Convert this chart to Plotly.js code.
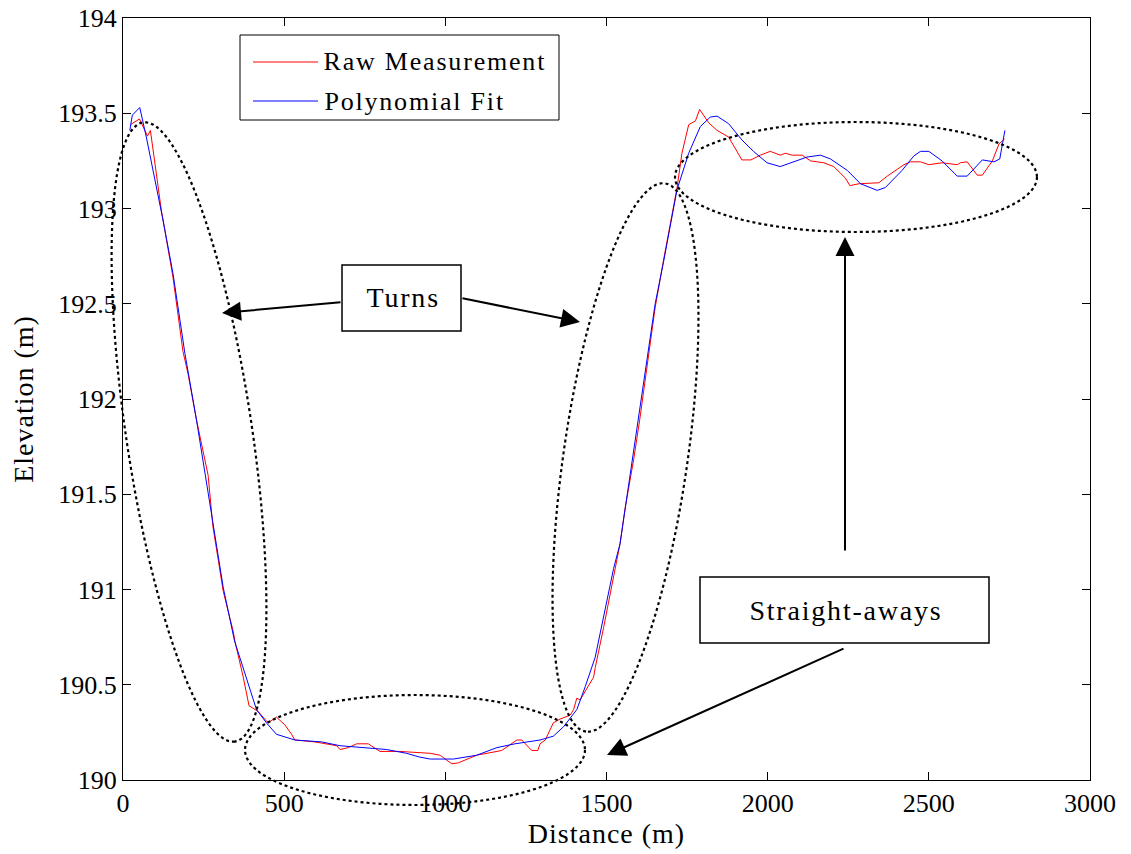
<!DOCTYPE html>
<html>
<head>
<meta charset="utf-8">
<script src="https://cdn.plot.ly/plotly-3.0.1.min.js"></script>
<style>
html,body{margin:0;padding:0;background:#fff;}
#chart{width:1131px;height:854px;}
#chart .xtitle, #chart .ytitle{letter-spacing:1px;}
#chart .annotation-text{letter-spacing:1.8px;}
</style>
</head>
<body>
<div id="chart"></div>
<script>
// ---- Data ----
const rawDistance = [23, 51, 76, 85, 119, 155, 186, 202, 228, 259, 264, 279, 311, 342, 347, 373, 391, 419, 450, 476, 502, 523, 533, 595, 663, 673, 699, 725, 761, 797, 859, 953, 984, 1020, 1040, 1097, 1160, 1175, 1222, 1237, 1268, 1287, 1294, 1310, 1335, 1356, 1387, 1398, 1408, 1418, 1460, 1465, 1491, 1522, 1542, 1558, 1584, 1603, 1651, 1677, 1719, 1734, 1755, 1776, 1789, 1817, 1843, 1879, 1920, 1948, 1977, 2008, 2039, 2055, 2076, 2107, 2133, 2174, 2205, 2241, 2255, 2283, 2345, 2371, 2397, 2423, 2443, 2474, 2500, 2541, 2588, 2598, 2619, 2650, 2666, 2697, 2718, 2735];
const rawElevation = [193.44, 193.47, 193.38, 193.41, 192.99, 192.64, 192.25, 192.13, 191.89, 191.64, 191.60, 191.33, 190.99, 190.78, 190.73, 190.54, 190.39, 190.36, 190.30, 190.33, 190.29, 190.24, 190.21, 190.20, 190.18, 190.16, 190.17, 190.19, 190.19, 190.15, 190.15, 190.14, 190.13, 190.085, 190.09, 190.13, 190.15, 190.155, 190.21, 190.21, 190.155, 190.155, 190.19, 190.21, 190.30, 190.32, 190.34, 190.37, 190.43, 190.42, 190.54, 190.59, 190.80, 191.06, 191.24, 191.43, 191.68, 191.89, 192.48, 192.73, 193.11, 193.29, 193.44, 193.46, 193.52, 193.45, 193.41, 193.375, 193.255, 193.255, 193.28, 193.30, 193.28, 193.29, 193.28, 193.28, 193.25, 193.24, 193.22, 193.16, 193.12, 193.13, 193.135, 193.17, 193.20, 193.23, 193.245, 193.245, 193.23, 193.24, 193.23, 193.24, 193.245, 193.175, 193.175, 193.25, 193.34, 193.365];

const fitDistance = [21, 29, 52, 73, 124, 155, 192, 228, 279, 311, 346, 414, 445, 476, 533, 616, 673, 818, 880, 921, 953, 1025, 1097, 1160, 1216, 1294, 1335, 1367, 1408, 1434, 1465, 1491, 1522, 1542, 1599, 1651, 1677, 1719, 1755, 1791, 1822, 1843, 1879, 1920, 1956, 1998, 2039, 2081, 2122, 2164, 2195, 2247, 2288, 2340, 2365, 2417, 2453, 2474, 2500, 2541, 2588, 2619, 2666, 2702, 2720, 2736];
const fitElevation = [193.41, 193.49, 193.53, 193.37, 192.94, 192.66, 192.24, 191.89, 191.35, 191.01, 190.73, 190.37, 190.30, 190.24, 190.21, 190.20, 190.18, 190.16, 190.14, 190.12, 190.11, 190.11, 190.13, 190.17, 190.19, 190.21, 190.23, 190.28, 190.37, 190.49, 190.645, 190.855, 191.11, 191.24, 191.89, 192.50, 192.72, 193.10, 193.29, 193.43, 193.48, 193.485, 193.445, 193.36, 193.30, 193.24, 193.22, 193.245, 193.27, 193.28, 193.26, 193.20, 193.13, 193.095, 193.11, 193.20, 193.275, 193.30, 193.30, 193.25, 193.17, 193.17, 193.255, 193.245, 193.26, 193.41];

const seriesNames = ["Raw Measurement", "Polynomial Fit"];
const xTicks = [0, 500, 1000, 1500, 2000, 2500, 3000];
const yTicks = [190, 190.5, 191, 191.5, 192, 192.5, 193, 193.5, 194];
const labelTurns = "Turns";
const labelStraight = "Straight-aways";

// ---- Layout geometry (pixels) ----
const FIG_W = 1131, FIG_H = 854;
const M = {l: 123, r: 41, t: 18, b: 74};
const PW = FIG_W - M.l - M.r, PH = FIG_H - M.t - M.b;
function px(X) { return (X - M.l) / PW; }
function py(Y) { return 1 - (Y - M.t) / PH; }

const FONT = "Liberation Serif, Times New Roman, serif";
const FS = 26;

function ellipsePath(cx, cy, a, b, thetaDeg) {
  const th = thetaDeg * Math.PI / 180, n = 120;
  let d = "";
  for (let i = 0; i <= n; i++) {
    const t = 2 * Math.PI * i / n;
    const X = cx + a * Math.cos(t) * Math.cos(th) - b * Math.sin(t) * Math.sin(th);
    const Y = cy + a * Math.cos(t) * Math.sin(th) + b * Math.sin(t) * Math.cos(th);
    d += (i === 0 ? "M" : "L") + px(X).toFixed(5) + "," + py(Y).toFixed(5);
  }
  return d + "Z";
}

const dotLine = {color: "black", width: 2.2, dash: "dot"};
const shapes = [
  {type: "path", xref: "paper", yref: "paper", path: ellipsePath(189, 432, 313, 63, 81.56), line: dotLine},
  {type: "path", xref: "paper", yref: "paper", path: ellipsePath(625.5, 457.5, 277, 62, 98.2), line: dotLine},
  {type: "path", xref: "paper", yref: "paper", path: ellipsePath(415, 750, 170, 55, 0), line: dotLine},
  {type: "path", xref: "paper", yref: "paper", path: ellipsePath(856, 177, 181, 55, 0), line: dotLine},
  // legend box
  {type: "rect", xref: "paper", yref: "paper", x0: px(240), x1: px(559), y0: py(35), y1: py(120), line: {color: "black", width: 1}, fillcolor: "white", layer: "above"},
  {type: "line", xref: "paper", yref: "paper", x0: px(253), x1: px(318), y0: py(62), y1: py(62), line: {color: "red", width: 1}, layer: "above"},
  {type: "line", xref: "paper", yref: "paper", x0: px(253), x1: px(318), y0: py(101), y1: py(101), line: {color: "blue", width: 1}, layer: "above"},
  // Turns box
  {type: "rect", xref: "paper", yref: "paper", x0: px(342), x1: px(461), y0: py(265), y1: py(331), line: {color: "black", width: 1.5}, fillcolor: "white", layer: "above"},
  // Straight-aways box
  {type: "rect", xref: "paper", yref: "paper", x0: px(700), x1: px(989), y0: py(577), y1: py(643), line: {color: "black", width: 1.5}, fillcolor: "white", layer: "above"}
];

function arrow(hx, hy, tx, ty) {
  return {xref: "paper", yref: "paper", x: px(hx), y: py(hy), ax: tx - hx, ay: ty - hy,
          axref: "pixel", ayref: "pixel", text: "", showarrow: true,
          arrowhead: 2, arrowsize: 1.9, arrowwidth: 2, arrowcolor: "black", standoff: 0};
}

const annotations = [
  {xref: "paper", yref: "paper", x: px(335), y: py(62), xanchor: "left", yanchor: "middle", text: seriesNames[0], showarrow: false, font: {family: FONT, size: FS, color: "black"}},
  {xref: "paper", yref: "paper", x: px(335), y: py(101), xanchor: "left", yanchor: "middle", text: seriesNames[1], showarrow: false, font: {family: FONT, size: FS, color: "black"}},
  {xref: "paper", yref: "paper", x: px(402.5), y: py(298), xanchor: "center", yanchor: "middle", text: labelTurns, showarrow: false, font: {family: FONT, size: 28, color: "black"}},
  {xref: "paper", yref: "paper", x: px(845.5), y: py(610), xanchor: "center", yanchor: "middle", text: labelStraight, showarrow: false, font: {family: FONT, size: 28, color: "black"}},
  arrow(222, 313, 342, 302),
  arrow(580, 322, 461, 298),
  arrow(607, 755, 845, 648),
  arrow(845, 237, 845, 552)
];

const traces = [
  {x: rawDistance, y: rawElevation, type: "scatter", mode: "lines", name: seriesNames[0], line: {color: "#ff0000", width: 1}},
  {x: fitDistance, y: fitElevation, type: "scatter", mode: "lines", name: seriesNames[1], line: {color: "#0000ff", width: 1}}
];

const axisCommon = {
  showline: true, linecolor: "black", linewidth: 1, mirror: "ticks",
  ticks: "inside", ticklen: 8, tickwidth: 1, tickcolor: "black",
  showgrid: false, zeroline: false,
  tickfont: {family: FONT, size: FS, color: "black"}
};

const layout = {
  width: FIG_W, height: FIG_H,
  margin: M,
  paper_bgcolor: "white", plot_bgcolor: "white",
  showlegend: false,
  xaxis: Object.assign({}, axisCommon, {
    range: [0, 3000], tickvals: xTicks, ticktext: xTicks.map(String),
    title: {text: "Distance (m)", font: {family: FONT, size: 28, color: "black"}, standoff: 0}
  }),
  yaxis: Object.assign({}, axisCommon, {
    range: [190, 194], tickvals: yTicks, ticktext: yTicks.map(String),
    title: {text: "Elevation (m)", font: {family: FONT, size: 28, color: "black"}, standoff: 16}
  }),
  shapes: shapes,
  annotations: annotations
};

Plotly.newPlot("chart", traces, layout, {staticPlot: true, displayModeBar: false});
</script>
</body>
</html>
